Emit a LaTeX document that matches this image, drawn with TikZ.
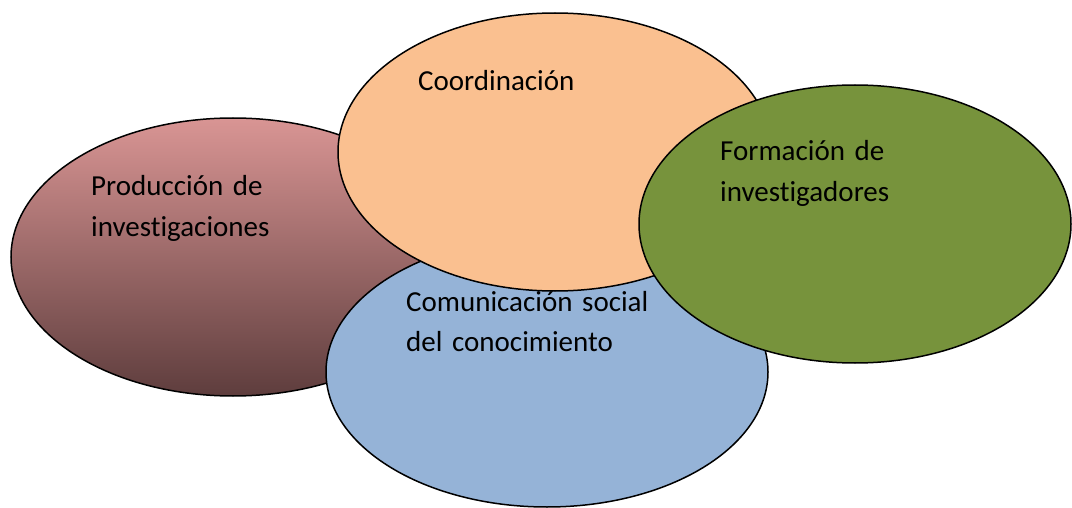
\documentclass[tikz,border=0pt]{standalone}
\usepackage{fontspec}
\setmainfont{Carlito}[Ligatures={NoCommon}]
\usetikzlibrary{shapes.geometric}
\definecolor{redtop}{HTML}{D99594}
\definecolor{redbot}{HTML}{5E3D3D}
\definecolor{orangefill}{HTML}{FAC090}
\definecolor{bluefill}{HTML}{95B3D7}
\definecolor{greenfill}{HTML}{77933C}
\tikzset{
  oval/.style={ellipse, draw=black, line width=1.5pt, inner sep=0pt, outer sep=0pt},
  lbl/.style={anchor=base west, inner sep=0pt, text width=320pt, align=left,
    font=\fontsize{29}{40.5}\selectfont, text=black}
}
\begin{document}
\begin{tikzpicture}[x=1pt,y=-1pt]
\useasboundingbox (0,0) rectangle (1072,508);
\node[oval, top color=redtop, bottom color=redbot, minimum width=444pt, minimum height=278pt] (prod) at (233,257) {};
\node[oval, fill=bluefill, minimum width=442pt, minimum height=270pt] (comu) at (547,372) {};
\node[oval, fill=orangefill, minimum width=434pt, minimum height=278pt] (coor) at (555,152) {};
\node[oval, fill=greenfill, minimum width=432pt, minimum height=278pt] (form) at (855,224) {};
\node[lbl] (tprod) at (91,196) {Producción de\\investigaciones};
\node[lbl] (tcoor) at (418,91) {Coordinación};
\node[lbl] (tform) at (720,161) {Formación de\\investigadores};
\node[lbl] (tcomu) at (406,311) {Comunicación social\\del conocimiento};
\end{tikzpicture}
\end{document}
